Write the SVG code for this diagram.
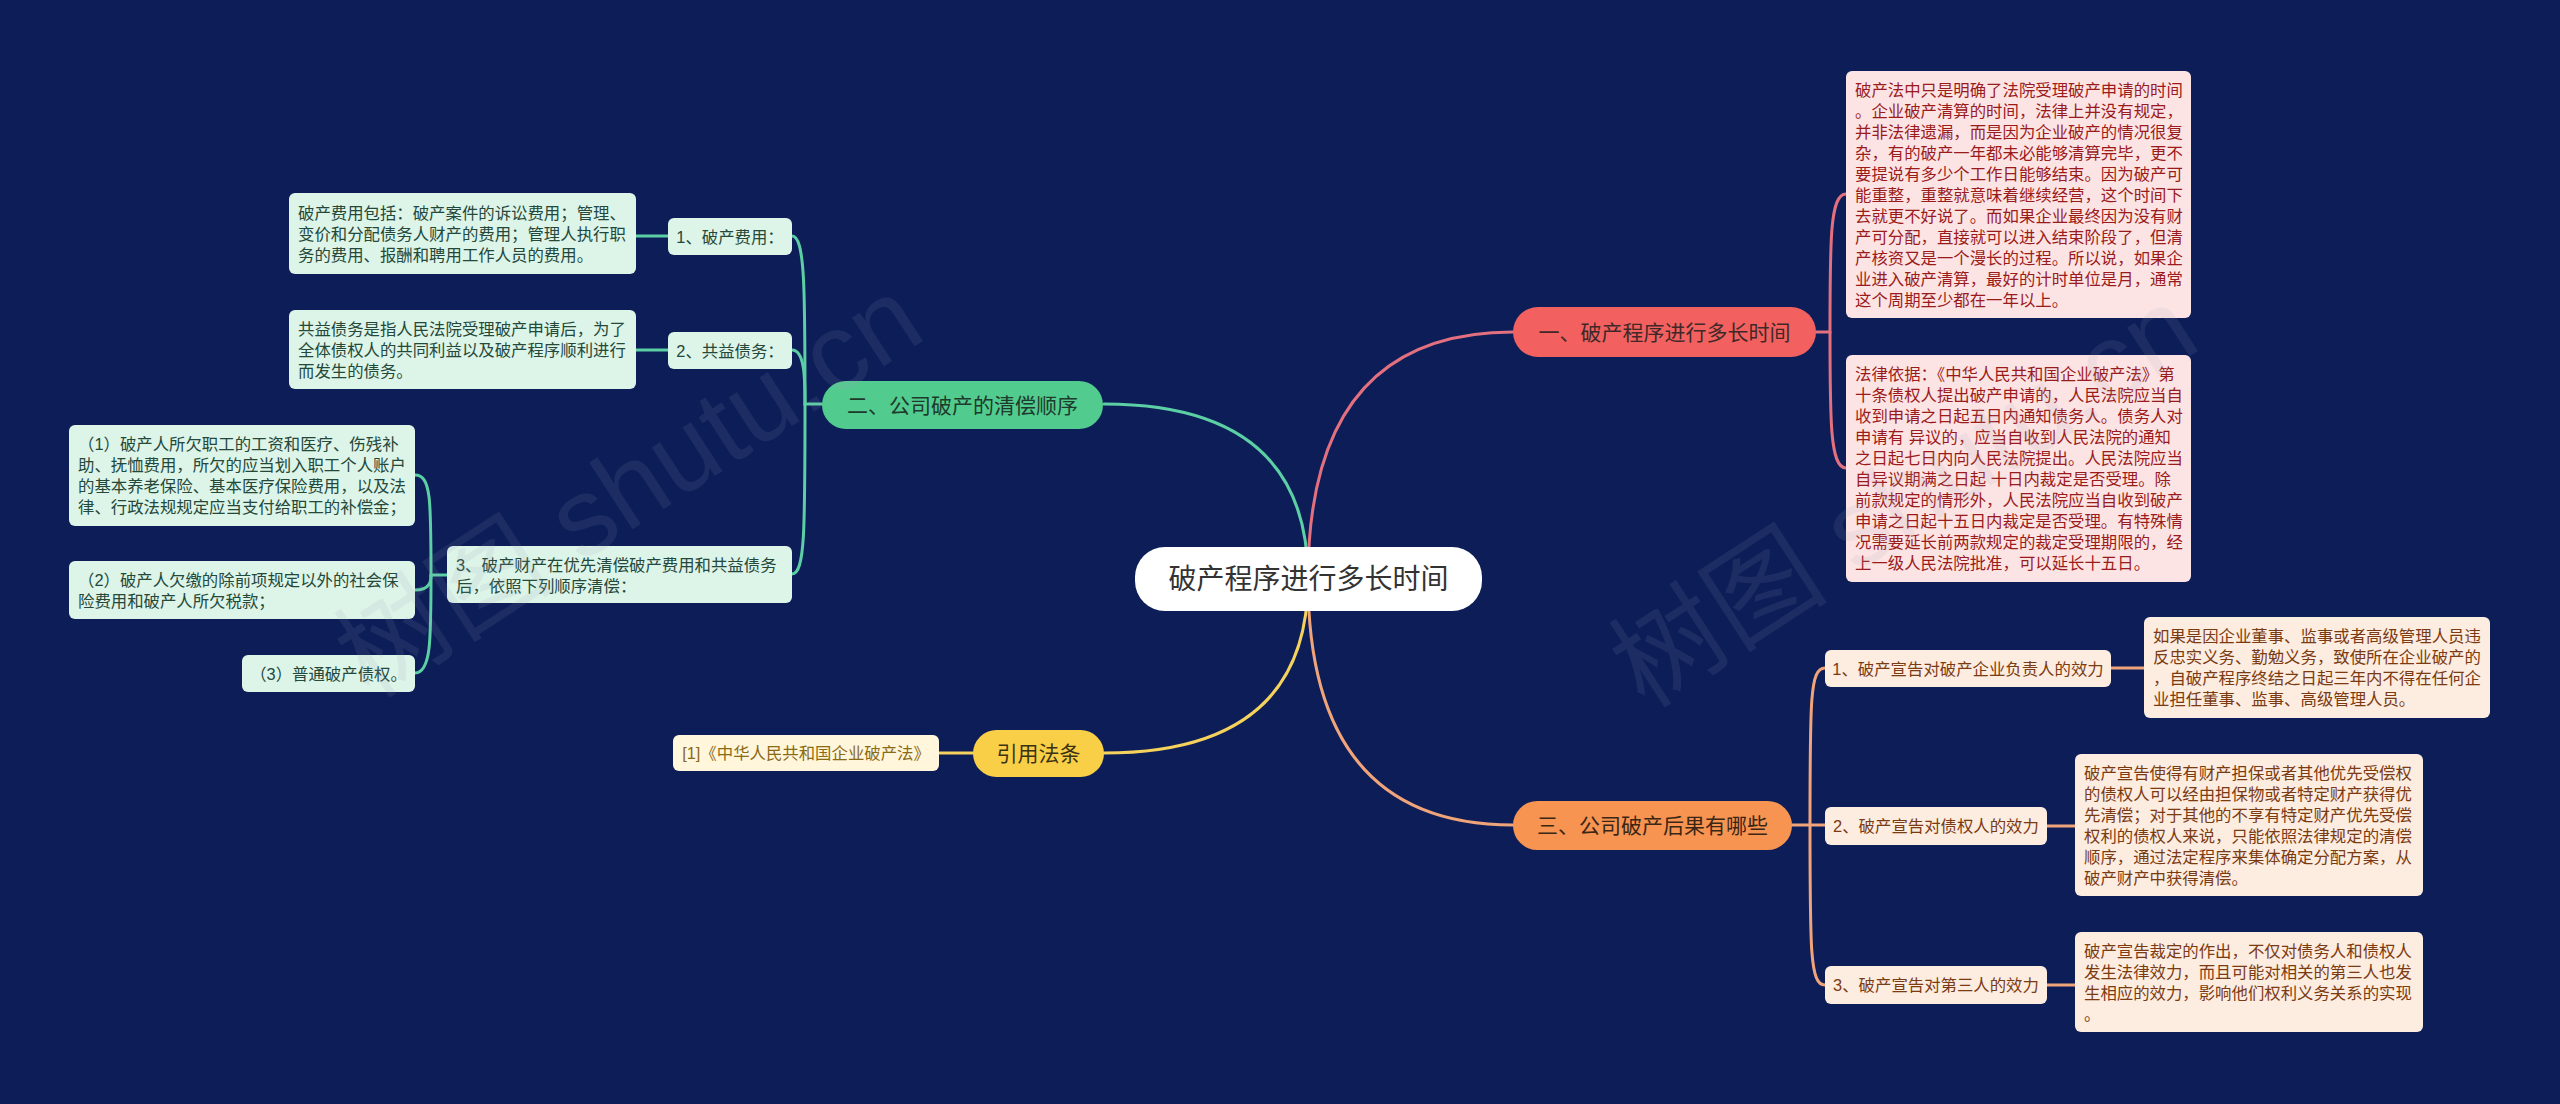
<svg xmlns="http://www.w3.org/2000/svg" width="2560" height="1104" viewBox="0 0 2560 1104">
<style>
text{font-family:"Liberation Sans","Noto Sans CJK SC",sans-serif;}
.bg{fill:#0c1d58;}
.ln{fill:none;stroke-width:3;stroke-linecap:round;}
.lr{stroke:#e2707f;}
.lg{stroke:#5ccfa4;}
.lo{stroke:#f0a47a;}
.ly{stroke:#f4d25c;}
.t16{font-size:16.4px;}
.t21{font-size:21px;}
.root{fill:#ffffff;}
.nr{fill:#f2615f;} .ng{fill:#52cc8e;} .no{fill:#f79452;} .ny{fill:#f9cf47;}
.br{fill:#402828;} .bg2{fill:#1e3a2c;} .bo{fill:#3a2614;} .by{fill:#3a3214;}
.pr{fill:#fde4e4;} .pg{fill:#ddf4e8;} .po{fill:#fdece0;} .py{fill:#fff6dc;}
.xr{fill:#9a1b1b;} .xg{fill:#24483a;} .xo{fill:#7a3b12;} .xy{fill:#8a6a14;}
.wm{font-size:110px;fill:#9aa0b8;opacity:0.12;}
</style>
<rect class="bg" x="0" y="0" width="2560" height="1104"/>

<g id="connectors">
  <path class="ln lr" d="M1308,579 Q1308,332 1513,332"/>
  <path class="ln lg" d="M1308,579 Q1308,404 1104,404"/>
  <path class="ln ly" d="M1308,579 Q1308,753 1104,753"/>
  <path class="ln lo" d="M1308,579 Q1308,825 1513,825"/>

  <path class="ln lr" d="M1816,332 H1830 C1830,240 1830,194 1846,194"/>
  <path class="ln lr" d="M1830,332 C1830,420 1830,468 1846,468"/>

  <path class="ln lo" d="M1792,825 H1810 C1810,700 1810,668 1825,668"/>
  <path class="ln lo" d="M1810,825 H1825"/>
  <path class="ln lo" d="M1810,825 C1810,950 1810,985 1825,985"/>
  <path class="ln lo" d="M2111,668 H2144"/>
  <path class="ln lo" d="M2047,826 H2075"/>
  <path class="ln lo" d="M2047,985 H2075"/>

  <path class="ln lg" d="M822,404 H805 C805,290 805,236 792,236"/>
  <path class="ln lg" d="M805,404 C805,380 805,350 792,350"/>
  <path class="ln lg" d="M805,404 C805,530 805,574 792,574"/>
  <path class="ln lg" d="M668,236 H636"/>
  <path class="ln lg" d="M668,350 H636"/>
  <path class="ln lg" d="M447,575 H431 C431,500 431,475 415,475"/>
  <path class="ln lg" d="M431,575 C431,580 431,590 415,590"/>
  <path class="ln lg" d="M431,575 C431,640 431,673 415,673"/>

  <path class="ln ly" d="M973,753 H939"/>
</g>

<g id="root">
  <rect class="root" x="1135" y="547" width="347" height="64" rx="30"/>
  <text x="1308.5" y="589" font-size="28" fill="#333333" text-anchor="middle">破产程序进行多长时间</text>
</g>

<g id="b1">
  <rect class="nr" x="1513" y="307" width="303" height="50" rx="25"/>
  <text class="t21 br" x="1664.5" y="339.5" text-anchor="middle">一、破产程序进行多长时间</text>
</g>
<g id="b1-d1">
  <rect class="pr" x="1846" y="71" width="345" height="247" rx="6"/>
  <text class="t16 xr" x="1855" y="95.5">
    <tspan x="1855" dy="0">破产法中只是明确了法院受理破产申请的时间</tspan>
    <tspan x="1855" dy="21">。企业破产清算的时间，法律上并没有规定，</tspan>
    <tspan x="1855" dy="21">并非法律遗漏，而是因为企业破产的情况很复</tspan>
    <tspan x="1855" dy="21">杂，有的破产一年都未必能够清算完毕，更不</tspan>
    <tspan x="1855" dy="21">要提说有多少个工作日能够结束。因为破产可</tspan>
    <tspan x="1855" dy="21">能重整，重整就意味着继续经营，这个时间下</tspan>
    <tspan x="1855" dy="21">去就更不好说了。而如果企业最终因为没有财</tspan>
    <tspan x="1855" dy="21">产可分配，直接就可以进入结束阶段了，但清</tspan>
    <tspan x="1855" dy="21">产核资又是一个漫长的过程。所以说，如果企</tspan>
    <tspan x="1855" dy="21">业进入破产清算，最好的计时单位是月，通常</tspan>
    <tspan x="1855" dy="21">这个周期至少都在一年以上。</tspan>
  </text>
</g>
<g id="b1-d2">
  <rect class="pr" x="1846" y="355" width="345" height="227" rx="6"/>
  <text class="t16 xr" x="1855" y="380">
    <tspan x="1855" dy="0">法律依据：《中华人民共和国企业破产法》第</tspan>
    <tspan x="1855" dy="21">十条债权人提出破产申请的，人民法院应当自</tspan>
    <tspan x="1855" dy="21">收到申请之日起五日内通知债务人。债务人对</tspan>
    <tspan x="1855" dy="21">申请有 异议的，应当自收到人民法院的通知</tspan>
    <tspan x="1855" dy="21">之日起七日内向人民法院提出。人民法院应当</tspan>
    <tspan x="1855" dy="21">自异议期满之日起 十日内裁定是否受理。除</tspan>
    <tspan x="1855" dy="21">前款规定的情形外，人民法院应当自收到破产</tspan>
    <tspan x="1855" dy="21">申请之日起十五日内裁定是否受理。有特殊情</tspan>
    <tspan x="1855" dy="21">况需要延长前两款规定的裁定受理期限的，经</tspan>
    <tspan x="1855" dy="21">上一级人民法院批准，可以延长十五日。</tspan>
  </text>
</g>

<g id="b2">
  <rect class="ng" x="822" y="381" width="281" height="48" rx="24"/>
  <text class="t21 bg2" x="962.5" y="412.5" text-anchor="middle">二、公司破产的清偿顺序</text>
</g>
<g id="b2-c1">
  <rect class="pg" x="668" y="218" width="124" height="37" rx="6"/>
  <text class="t16 xg" x="730" y="242.5" text-anchor="middle">1、破产费用：</text>
</g>
<g id="b2-c1-d">
  <rect class="pg" x="289" y="193" width="347" height="81" rx="6"/>
  <text class="t16 xg" x="298" y="218.5">
    <tspan x="298" dy="0">破产费用包括：破产案件的诉讼费用；管理、</tspan>
    <tspan x="298" dy="21">变价和分配债务人财产的费用；管理人执行职</tspan>
    <tspan x="298" dy="21">务的费用、报酬和聘用工作人员的费用。</tspan>
  </text>
</g>
<g id="b2-c2">
  <rect class="pg" x="668" y="332" width="124" height="37" rx="6"/>
  <text class="t16 xg" x="730" y="356.5" text-anchor="middle">2、共益债务：</text>
</g>
<g id="b2-c2-d">
  <rect class="pg" x="289" y="310" width="347" height="79" rx="6"/>
  <text class="t16 xg" x="298" y="335">
    <tspan x="298" dy="0">共益债务是指人民法院受理破产申请后，为了</tspan>
    <tspan x="298" dy="21">全体债权人的共同利益以及破产程序顺利进行</tspan>
    <tspan x="298" dy="21">而发生的债务。</tspan>
  </text>
</g>
<g id="b2-c3">
  <rect class="pg" x="447" y="546" width="345" height="57" rx="6"/>
  <text class="t16 xg" x="456" y="571">
    <tspan x="456" dy="0">3、破产财产在优先清偿破产费用和共益债务</tspan>
    <tspan x="456" dy="21">后，依照下列顺序清偿：</tspan>
  </text>
</g>
<g id="b2-c3-1">
  <rect class="pg" x="69" y="425" width="346" height="101" rx="6"/>
  <text class="t16 xg" x="78" y="450">
    <tspan x="78" dy="0">（1）破产人所欠职工的工资和医疗、伤残补</tspan>
    <tspan x="78" dy="21">助、抚恤费用，所欠的应当划入职工个人账户</tspan>
    <tspan x="78" dy="21">的基本养老保险、基本医疗保险费用，以及法</tspan>
    <tspan x="78" dy="21">律、行政法规规定应当支付给职工的补偿金；</tspan>
  </text>
</g>
<g id="b2-c3-2">
  <rect class="pg" x="69" y="561" width="346" height="58" rx="6"/>
  <text class="t16 xg" x="78" y="586">
    <tspan x="78" dy="0">（2）破产人欠缴的除前项规定以外的社会保</tspan>
    <tspan x="78" dy="21">险费用和破产人所欠税款；</tspan>
  </text>
</g>
<g id="b2-c3-3">
  <rect class="pg" x="242" y="655" width="173" height="37" rx="6"/>
  <text class="t16 xg" x="328.5" y="679.5" text-anchor="middle">（3）普通破产债权。</text>
</g>

<g id="b3">
  <rect class="no" x="1513" y="801" width="279" height="49" rx="24.5"/>
  <text class="t21 bo" x="1652.5" y="833" text-anchor="middle">三、公司破产后果有哪些</text>
</g>
<g id="b3-c1">
  <rect class="po" x="1825" y="650" width="286" height="37" rx="6"/>
  <text class="t16 xo" x="1968" y="674.5" text-anchor="middle">1、破产宣告对破产企业负责人的效力</text>
</g>
<g id="b3-c1-d">
  <rect class="po" x="2144" y="617" width="346" height="101" rx="6"/>
  <text class="t16 xo" x="2153" y="642">
    <tspan x="2153" dy="0">如果是因企业董事、监事或者高级管理人员违</tspan>
    <tspan x="2153" dy="21">反忠实义务、勤勉义务，致使所在企业破产的</tspan>
    <tspan x="2153" dy="21">，自破产程序终结之日起三年内不得在任何企</tspan>
    <tspan x="2153" dy="21">业担任董事、监事、高级管理人员。</tspan>
  </text>
</g>
<g id="b3-c2">
  <rect class="po" x="1825" y="807" width="222" height="38" rx="6"/>
  <text class="t16 xo" x="1936" y="832" text-anchor="middle">2、破产宣告对债权人的效力</text>
</g>
<g id="b3-c2-d">
  <rect class="po" x="2075" y="754" width="348" height="142" rx="6"/>
  <text class="t16 xo" x="2084" y="778.5">
    <tspan x="2084" dy="0">破产宣告使得有财产担保或者其他优先受偿权</tspan>
    <tspan x="2084" dy="21">的债权人可以经由担保物或者特定财产获得优</tspan>
    <tspan x="2084" dy="21">先清偿；对于其他的不享有特定财产优先受偿</tspan>
    <tspan x="2084" dy="21">权利的债权人来说，只能依照法律规定的清偿</tspan>
    <tspan x="2084" dy="21">顺序，通过法定程序来集体确定分配方案，从</tspan>
    <tspan x="2084" dy="21">破产财产中获得清偿。</tspan>
  </text>
</g>
<g id="b3-c3">
  <rect class="po" x="1825" y="966" width="222" height="38" rx="6"/>
  <text class="t16 xo" x="1936" y="991" text-anchor="middle">3、破产宣告对第三人的效力</text>
</g>
<g id="b3-c3-d">
  <rect class="po" x="2075" y="932" width="348" height="100" rx="6"/>
  <text class="t16 xo" x="2084" y="956.5">
    <tspan x="2084" dy="0">破产宣告裁定的作出，不仅对债务人和债权人</tspan>
    <tspan x="2084" dy="21">发生法律效力，而且可能对相关的第三人也发</tspan>
    <tspan x="2084" dy="21">生相应的效力，影响他们权利义务关系的实现</tspan>
    <tspan x="2084" dy="21">。</tspan>
  </text>
</g>

<g id="b4">
  <rect class="ny" x="973" y="730" width="131" height="47" rx="23.5"/>
  <text class="t21 by" x="1038.5" y="761" text-anchor="middle">引用法条</text>
</g>
<g id="b4-c1">
  <rect class="py" x="673" y="735" width="266" height="36" rx="6"/>
  <text class="t16 xy" x="806" y="759" text-anchor="middle">[1]《中华人民共和国企业破产法》</text>
</g>

<g id="watermark">
  <text class="wm" transform="translate(370,700) rotate(-33)">树图 shutu.cn</text>
  <text class="wm" transform="translate(1645,710) rotate(-33)">树图 shutu.cn</text>
</g>
</svg>
